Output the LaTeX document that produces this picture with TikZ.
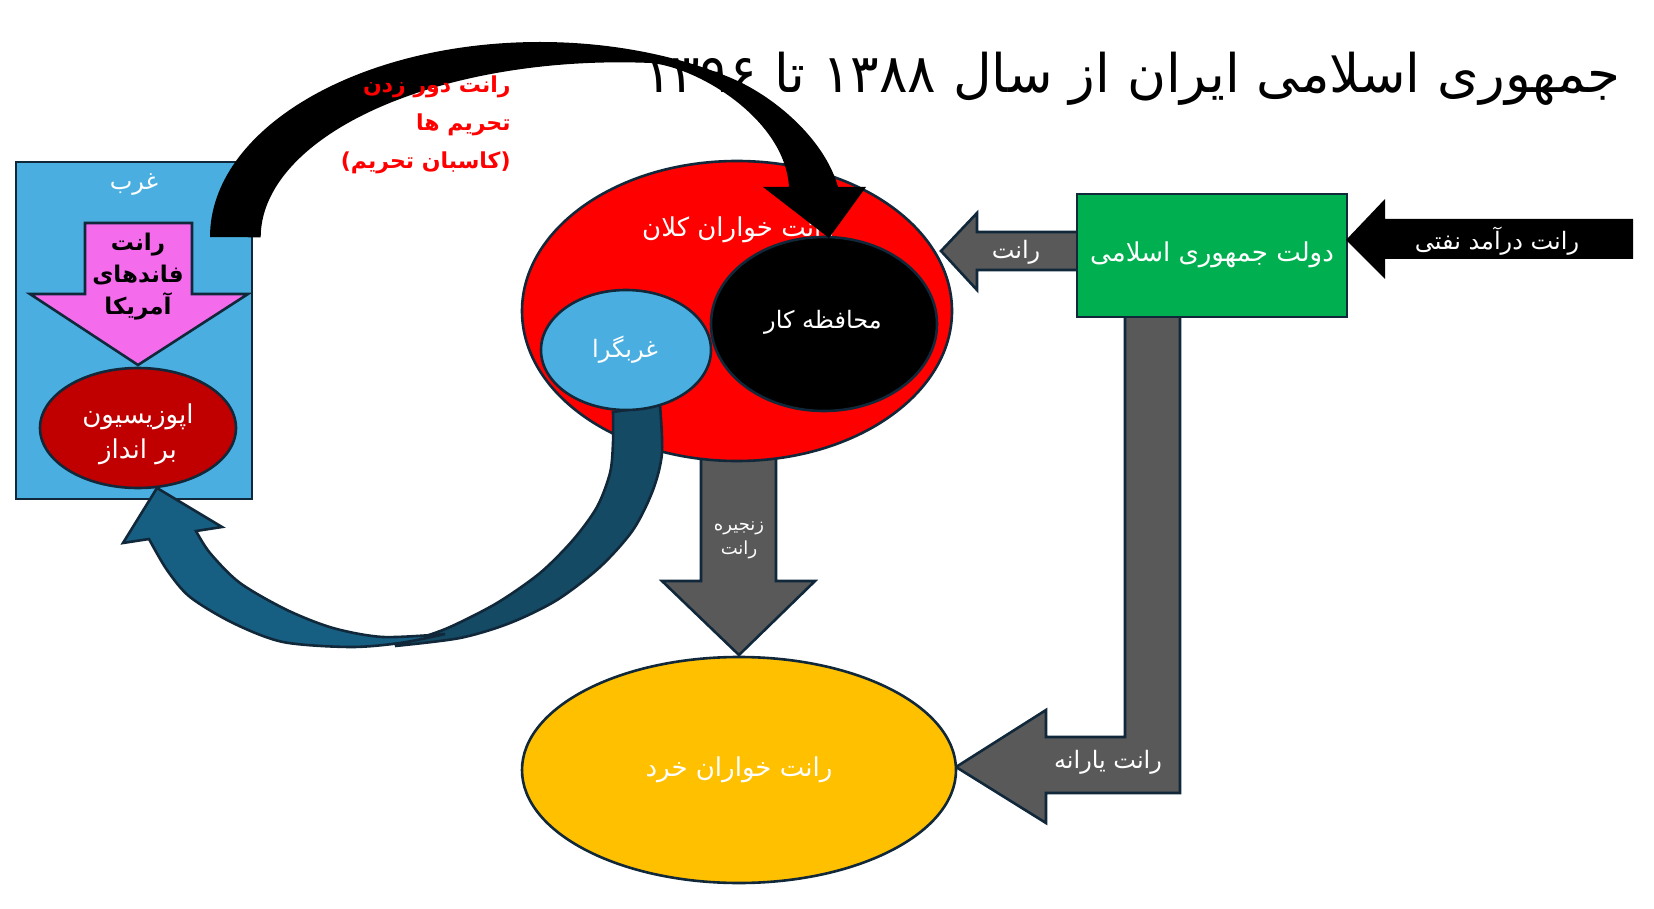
\documentclass[tikz,border=0pt]{standalone}
\usepackage{fontspec}
\newfontfamily\ar[Script=Arabic]{DejaVu Sans}
\TeXXeTstate=1
\newcommand\rl[1]{\beginR #1\endR}
\definecolor{navy}{HTML}{10283A}
\definecolor{skyb}{HTML}{4AAFE0}
\definecolor{pinkm}{HTML}{F46BEC}
\definecolor{dred}{HTML}{C00000}
\definecolor{gr}{HTML}{00B050}
\definecolor{grayb}{HTML}{595959}
\definecolor{yel}{HTML}{FFC000}
\definecolor{bluel}{HTML}{175F82}
\definecolor{blued}{HTML}{144A64}
\tikzset{
  lbl/.style={inner sep=0pt, font=\ar, text=white},
  shp/.style={draw=navy, line width=1.3pt},
}
\begin{document}
\begin{tikzpicture}[x=0.5pt,y=-0.5pt]
\useasboundingbox[fill=white] (0,0) rectangle (1654,909);
% title
\node[lbl, text=black, anchor=east, font=\ar\fontsize{26.6}{30}\selectfont] (title) at (1621,79) {\rl{جمهوری اسلامی ایران از سال ۱۳۸۸ تا ۱۳۹۶}};
% west box
\draw[shp, fill=skyb] (16,162) rectangle (252,499);
\node[lbl, font=\ar\fontsize{12}{14}\selectfont] (gharb) at (134,185) {\rl{غرب}};
\draw[shp, fill=pinkm] (85,223) -- (192,223) -- (192,294) -- (248,294) -- (138,365) -- (30,294) -- (85,294) -- cycle;
\node[lbl, text=black, align=center, font=\ar\bfseries\fontsize{11.5}{16}\selectfont] (funds) at (138,277) {\rl{رانت}\\\rl{فاندهای}\\\rl{آمریکا}};
\draw[shp, fill=dred] (138,428) ellipse [x radius=98, y radius=60];
\node[lbl, align=center, font=\ar\fontsize{13}{17.5}\selectfont] (oppo) at (138,434) {\rl{اپوزیسیون}\\\rl{بر انداز}};
% chain arrow
\draw[shp, fill=grayb] (701,455) -- (776,455) -- (776,581) -- (815,581) -- (739,655) -- (662,581) -- (701,581) -- cycle;
\node[lbl, align=center, font=\ar\fontsize{9}{12}\selectfont] (chain) at (739,540) {\rl{زنجیره}\\\rl{رانت}};
% big red ellipse
\draw[shp, fill=red] (737,311) ellipse [x radius=215, y radius=150];
\node[lbl, font=\ar\fontsize{13}{15}\selectfont] (kalan) at (738,230) {\rl{رانت خواران کلان}};
% dark blue curved arrow
\draw[shp, fill=blued] plot[smooth] coordinates {(660,405) (662,453) (653,490) (633,530) (600,567) (557,600) (510,623) (460,638) (395,646)} -- plot[smooth] coordinates {(395,646) (417,639) (450,627) (497,603) (540,573) (573,540) (597,507) (610,473) (613,443) (613,412)} -- cycle;
\draw[shp, fill=bluel] plot[smooth] coordinates {(445,634) (400,643) (350,647) (283,642) (233,623) (190,597) (167,570) (149,539)} -- (123,543) -- (157,488) -- (222,527) -- plot[smooth] coordinates {(196,531) (210,553) (240,583) (287,610) (333,628) (383,637) (445,634)} -- cycle;
% inner ellipses
\draw[shp, fill=skyb] (626,350) ellipse [x radius=85, y radius=60];
\node[lbl, font=\ar\fontsize{12}{14}\selectfont] (gharbgara) at (625,350) {\rl{غربگرا}};
\draw[shp, fill=black] (824,324) ellipse [x radius=113, y radius=87];
\node[lbl, font=\ar\fontsize{12}{14}\selectfont] (mohafez) at (823,322) {\rl{محافظه کار}};
% black arc arrow
\fill[black] (210,237) arc[start angle=180, end angle=305, x radius=330, y radius=195]
  .. controls (775,96) and (825,140) .. (838,187) -- (866,187) -- (829,238) -- (763,187) -- (789,187)
  .. controls (785,120) and (700,68) .. (651,63)
  arc[start angle=275, end angle=180, x radius=359, y radius=175] -- cycle;
\node[lbl, text=red, anchor=east, align=right, font=\ar\bfseries\fontsize{11}{19}\selectfont] (dorzadan) at (511,125) {\rl{رانت دور زدن}\\\rl{تحریم ها}\\\rl{(کاسبان تحریم)}};
% right side
\draw[shp, fill=grayb] (1080,232) -- (977,232) -- (977,213) -- (941,251) -- (977,290) -- (977,270) -- (1080,270) -- cycle;
\node[lbl, font=\ar\fontsize{12}{14}\selectfont] (rant) at (1016,252) {\rl{رانت}};
\draw[shp, fill=grayb] (1125,312) -- (1180,312) -- (1180,793) -- (1046,793) -- (1046,823) -- (956,767) -- (1046,710) -- (1046,737) -- (1125,737) -- cycle;
\node[lbl, font=\ar\fontsize{12}{14}\selectfont] (yarane) at (1108,762) {\rl{رانت یارانه}};
\draw[shp, fill=gr] (1077,194) rectangle (1347,317);
\node[lbl, font=\ar\fontsize{13}{15}\selectfont] (dowlat) at (1212,255) {\rl{دولت جمهوری اسلامی}};
\fill[black] (1633,219) -- (1385,219) -- (1385,199) -- (1346,240) -- (1385,279) -- (1385,259) -- (1633,259) -- cycle;
\node[lbl, font=\ar\fontsize{12}{14}\selectfont] (naft) at (1497,241) {\rl{رانت درآمد نفتی}};
% yellow ellipse
\draw[shp, fill=yel] (739,770) ellipse [x radius=217, y radius=113];
\node[lbl, font=\ar\fontsize{13}{15}\selectfont] (khord) at (739,770) {\rl{رانت خواران خرد}};
\end{tikzpicture}
\end{document}
